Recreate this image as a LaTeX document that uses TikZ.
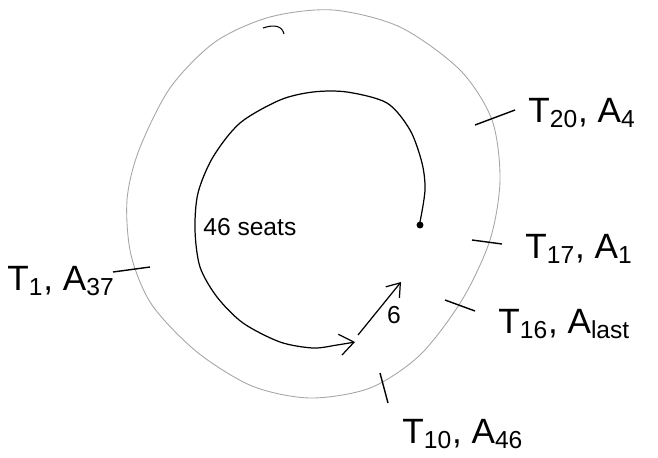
\documentclass[tikz,border=0pt]{standalone}
\usepackage{fontspec}
\setmainfont{Liberation Sans}
\usepackage{tikz}
\usetikzlibrary{arrows.meta}

\begin{document}
\begin{tikzpicture}[x=0.02cm, y=-0.02cm,
  lbl/.style={font=\fontsize{20}{24}\selectfont, inner sep=0pt, anchor=base west},
  small/.style={font=\fontsize{14}{16}\selectfont, inner sep=0pt},
  ring/.style={gray!70, line width=0.5pt},
  spiral/.style={black, line width=0.6pt},
  tick/.style={black, line width=0.8pt},
  arr/.style={-{Straight Barb[length=8pt, width=12pt]}, line width=0.7pt}
]
\useasboundingbox (0,0) rectangle (658,457);

% ─── outer ring (hand drawn, slightly egg shaped) ───
\draw[ring] plot[smooth cycle] coordinates {
  (333,10) (400,27) (460,70) (492,120) (500,180) (490,240) (462,300)
  (420,355) (370,388) (310,398) (252,386) (197,352) (152,305) (131,255)
  (127,200) (139,150) (170,88) (215,42) (270,17)};
\draw[spiral] (263,28) .. controls (275,24) and (282,26) .. (284,34);

% ─── inner spiral, starting at the dot ───
\node[circle, fill, inner sep=1.4pt] (start) at (420,225) {};
\draw[spiral, arr] plot[smooth] coordinates {
  (420,222) (425,190) (422,163) (410,130) (387,103) (347,92) (313,92)
  (280,100) (240,123) (213,157) (198,193) (195,230) (200,267) (217,297)
  (243,323) (280,342) (313,348) (337,345) (355,342)};
\node[small, anchor=base west] (seats) at (203,235) {46 seats};

% ─── second arrow, 6 ───
\coordinate (sixa) at (358,335);
\coordinate (sixb) at (401,282);
\draw[arr, -{Straight Barb[length=7pt, width=10pt]}] (sixa) -- (sixb);
\node[small] (six) at (394,315) {6};

% ─── ticks on the ring ───
\coordinate (t20a) at (475,125); \coordinate (t20b) at (515,110);
\coordinate (t17a) at (472,240); \coordinate (t17b) at (502,244);
\coordinate (t16a) at (445,300); \coordinate (t16b) at (475,311);
\coordinate (t10a) at (380,373); \coordinate (t10b) at (388,403);
\coordinate (t1a)  at (113,272); \coordinate (t1b)  at (150,267);
\draw[tick] (t20a) -- (t20b);
\draw[tick] (t17a) -- (t17b);
\draw[tick] (t16a) -- (t16b);
\draw[tick] (t10a) -- (t10b);
\draw[tick] (t1a) -- (t1b);

% ─── tick labels ───
\node[lbl] (l20) at (528,122) {T\textsubscript{20}, A\textsubscript{4}};
\node[lbl] (l17) at (525,258) {T\textsubscript{17}, A\textsubscript{1}};
\node[lbl] (l16) at (498,333) {T\textsubscript{16}, A\textsubscript{last}};
\node[lbl] (l10) at (402,443) {T\textsubscript{10}, A\textsubscript{46}};
\node[lbl] (l1)  at (7,290)   {T\textsubscript{1}, A\textsubscript{37}};

\end{tikzpicture}
\end{document}
